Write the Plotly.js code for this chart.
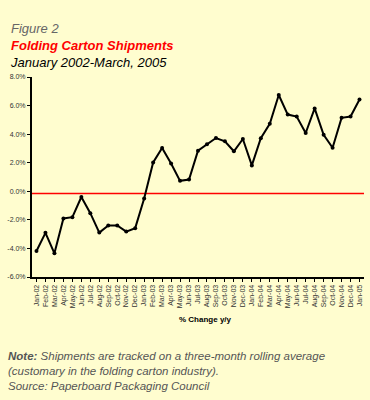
<!DOCTYPE html>
<html>
<head>
<meta charset="utf-8">
<script src="https://cdn.plot.ly/plotly-3.0.1.min.js"></script>
<style>
html,body{margin:0;padding:0;background:#FFFDCF;}
#chart{width:370px;height:400px;}
</style>
</head>
<body>
<div id="chart"></div>
<script>
var months = ["Jan-02","Feb-02","Mar-02","Apr-02","May-02","Jun-02","Jul-02","Aug-02","Sep-02","Oct-02","Nov-02","Dec-02",
"Jan-03","Feb-03","Mar-03","Apr-03","May-03","Jun-03","Jul-03","Aug-03","Sep-03","Oct-03","Nov-03","Dec-03",
"Jan-04","Feb-04","Mar-04","Apr-04","May-04","Jun-04","Jul-04","Aug-04","Sep-04","Oct-04","Nov-04","Dec-04","Jan-05"];
var changeYY = [-4.18,-2.91,-4.34,-1.9,-1.81,-0.4,-1.53,-2.89,-2.39,-2.39,-2.82,-2.58,
-0.51,2.02,3.03,1.95,0.73,0.82,2.84,3.29,3.73,3.5,2.8,3.66,
1.81,3.71,4.72,6.74,5.37,5.23,4.08,5.8,3.96,3.05,5.14,5.23,6.43];
var refLevel = -0.15;
var yTicks = [-6,-4,-2,0,2,4,6,8];

var FONT = "Liberation Sans, Arial, Helvetica, sans-serif";
var W = 332, H = 200, L = 32, T = 77;
function px(x){return (x - L)/W;}
function py(y){return (T + H - y)/H;}

var trace = {
  x: months, y: changeYY, type: "scatter", mode: "lines+markers",
  line: {color: "#000", width: 2},
  marker: {color: "#000", size: 4},
  hoverinfo: "x+y"
};

var titleText = '<span style="color:#666"><i>Figure 2</i></span><br>' +
  '<span style="color:#FF0000"><b><i>Folding Carton Shipments</i></b></span><br>' +
  '<span style="color:#000"><i>January 2002-March, 2005</i></span>';
var noteText = '<b><i>Note:</i></b><i> Shipments are tracked on a three-month rolling average</i><br>' +
  '<i>(customary in the folding carton industry).</i><br>' +
  '<i>Source: Paperboard Packaging Council</i>';

var layout = {
  width: 370, height: 400,
  margin: {l: L, r: 370 - L - W, t: T, b: 400 - T - H},
  paper_bgcolor: "#FFFDCF", plot_bgcolor: "#FFFDCF",
  showlegend: false,
  font: {family: FONT, color: "#333"},
  xaxis: {
    type: "category", range: [-0.5, months.length - 0.5],
    showline: true, linecolor: "#000", linewidth: 2,
    ticks: "outside", ticklen: 3, tickcolor: "#000", tickwidth: 1,
    tickangle: -90, tickfont: {size: 7, color: "#333", family: FONT},
    showgrid: false, zeroline: false, fixedrange: true
  },
  yaxis: {
    range: [-6, 8], tickvals: yTicks, ticktext: yTicks.map(function(v){return v.toFixed(1)+"%";}),
    showline: true, linecolor: "#000", linewidth: 2,
    ticks: "outside", ticklen: 3, tickcolor: "#000", tickwidth: 1,
    tickfont: {size: 7, color: "#333", family: FONT},
    showgrid: false, zeroline: false, fixedrange: true
  },
  shapes: [{type: "line", xref: "paper", yref: "y", x0: 0, x1: 1, y0: refLevel, y1: refLevel,
            layer: "below", line: {color: "#FF0000", width: 1.5}}],
  annotations: [
    {text: titleText, xref: "paper", yref: "paper", x: px(9), y: py(45), xanchor: "left", yanchor: "middle",
     align: "left", showarrow: false, borderpad: 0, font: {size: 13, family: FONT}},
    {text: "<b>% Change y/y</b>", xref: "paper", yref: "paper", x: px(205), y: py(319), xanchor: "center", yanchor: "middle",
     showarrow: false, font: {size: 8, color: "#000", family: FONT}},
    {text: noteText, xref: "paper", yref: "paper", x: px(7), y: py(371), xanchor: "left", yanchor: "middle",
     align: "left", showarrow: false, borderpad: 0, font: {size: 11.5, color: "#555", family: FONT}}
  ]
};

Plotly.newPlot("chart", [trace], layout, {displayModeBar: false, staticPlot: true});
</script>
</body>
</html>
